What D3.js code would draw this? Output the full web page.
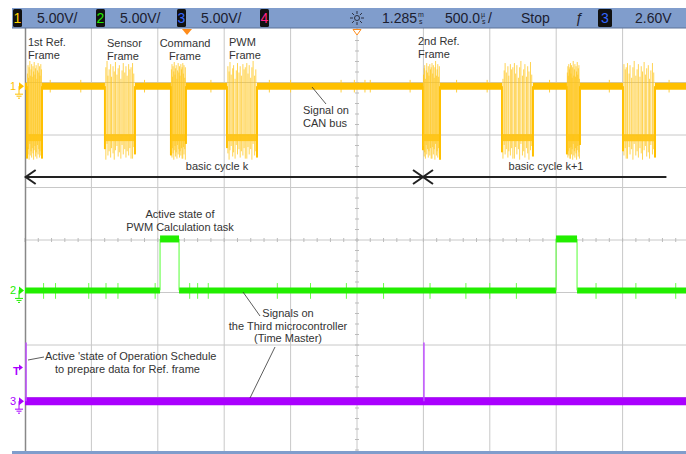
<!DOCTYPE html>
<html>
<head>
<meta charset="utf-8">
<script src="https://cdn.jsdelivr.net/npm/d3@7"></script>
<style>
body { margin: 0; background: #fff; }
svg { display: block; font-family: "Liberation Sans", Arial, sans-serif; }
</style>
</head>
<body>
<div id="container"></div>
<script>
width = 686;
height = 454;

// time base 500 us/div, 10 divisions on screen (values in us from left edge)
timeDomain = [0, 5000];
voltsPerDiv = 5;

// channel 1 - CAN bus frames
frameStart = [15, 602, 1099, 1521, 2997, 3592, 4081, 4503];
frameEnd   = [128, 828, 1212, 1747, 3125, 3825, 4179, 4744];
canHigh = 0;
canLow = -4.9;
// edge positions inside a frame (fraction of frame length) and the ringing peaks
edgeFrac    = [0, .03, .07, .1, .14, .19, .22, .27, .31, .35, .4, .44, .48, .53, .57, .61, .66, .7, .74, .79, .83, .87, .92, .96, 1];
spikeTop    = [2.2, 1.2, 2.0, 0.8, 1.8, 2.4, 1.0, 1.6, 2.1, 0.9, 1.9, 1.4, 2.3, 1.1, 1.7, 2.0, 0.7, 1.5, 2.2, 1.3, 1.9, 1.0, 2.1, 1.6, 1.8];
spikeBottom = [-6.9, -5.8, -6.5, -6.0, -7.0, -5.5, -6.6, -6.2, -6.8, -5.9, -6.4, -7.0, -6.1, -5.7, -6.7, -6.3, -6.9, -5.6, -6.5, -6.0, -6.8, -6.2, -6.6, -5.9, -6.9];
canGlitch = [190, 420, 900, 1400, 1840, 2000, 2380, 2480, 2560, 2600, 2900, 3250, 3480, 3950, 4400, 4850];

// channel 2 - PWM calculation task
pwmTaskStart = [1017, 3999];
pwmTaskEnd   = [1160, 4157];
pwmTaskHigh = 4.9;
pwmGlitch = [140, 230, 480, 610, 700, 980, 1240, 1300, 1380, 1900, 2150, 2420, 2700, 3050, 3320, 3500, 3700, 4300, 4600, 4900];

// channel 3 - operation schedule (time master)
schedPulse = [8, 3004];
schedHigh = 5.6;

// ground offsets of the channels, in divisions from screen centre
chOffset = { 1: 2.93, 2: -0.96, 3: -3.07 };
chColor = { 1: "#ffc000", 2: "#22ee00", 3: "#aa00ff" };

const x = d3.scaleLinear().domain(timeDomain).range([25, 689]);
const yDiv = d3.scaleLinear().domain([-4, 4]).range([450, 30]);
const yCh = (ch, v) => yDiv(chOffset[ch] + v / voltsPerDiv);

const svg = d3.select("#container").append("svg")
    .attr("width", width).attr("height", height);

svg.append("defs").append("clipPath").attr("id", "scr")
  .append("rect").attr("x", 25).attr("y", 28).attr("width", 661).attr("height", 424);

// ---- graticule
const grid = svg.append("g");
grid.selectAll("line.v").data(d3.range(1, 10)).join("line")
    .attr("x1", d => x(d * 500)).attr("x2", d => x(d * 500))
    .attr("y1", 28).attr("y2", 452)
    .attr("stroke", "#c8c8c8").attr("stroke-width", 1);
grid.selectAll("line.h").data(d3.range(-3, 4)).join("line")
    .attr("x1", 25).attr("x2", width)
    .attr("y1", d => yDiv(d)).attr("y2", d => yDiv(d))
    .attr("stroke", "#c8c8c8").attr("stroke-width", 1);
// minor ticks on the centre lines
grid.selectAll("line.tx").data(d3.range(0, 50)).join("line")
    .attr("x1", d => x(d * 100)).attr("x2", d => x(d * 100))
    .attr("y1", yDiv(0) - 2).attr("y2", yDiv(0) + 2)
    .attr("stroke", "#bbb");
grid.selectAll("line.ty").data(d3.range(-40, 40, 2)).join("line")
    .attr("x1", x(2500) - 2).attr("x2", x(2500) + 2)
    .attr("y1", d => yDiv(d / 10)).attr("y2", d => yDiv(d / 10))
    .attr("stroke", "#bbb");
grid.append("line").attr("x1", 25.5).attr("x2", 25.5).attr("y1", 28).attr("y2", 452)
    .attr("stroke", "#888").attr("stroke-width", 1.5);

const traces = svg.append("g").attr("clip-path", "url(#scr)");

// ---- channel 1 : CAN bus
const idle = [[-200, frameStart[0]]];
frameStart.forEach((s, i) => idle.push([frameEnd[i], i + 1 < frameStart.length ? frameStart[i + 1] : 5200]));
traces.append("g").selectAll("line").data(canGlitch).join("line")
    .attr("x1", d => x(d)).attr("x2", d => x(d))
    .attr("y1", yCh(1, 0.6)).attr("y2", yCh(1, -0.6))
    .attr("stroke", "#ffcf40").attr("stroke-width", 1);
traces.append("g").selectAll("line").data(idle).join("line")
    .attr("x1", d => x(d[0])).attr("x2", d => x(d[1]))
    .attr("y1", yCh(1, canHigh)).attr("y2", yCh(1, canHigh))
    .attr("stroke", chColor[1]).attr("stroke-width", 7);
traces.append("g").selectAll("line").data(frameStart).join("line")
    .attr("x1", d => x(d)).attr("x2", (d, i) => x(frameEnd[i]))
    .attr("y1", yCh(1, canLow)).attr("y2", yCh(1, canLow))
    .attr("stroke", chColor[1]).attr("stroke-width", 7).attr("opacity", 0.85);
const edges = [];
frameStart.forEach((s, i) => edgeFrac.forEach((f, k) => {
    const j = (k + i * 3) % edgeFrac.length;
    edges.push({ t: s + f * (frameEnd[i] - s), top: spikeTop[j], bot: spikeBottom[j], edge: k === 0 || k === edgeFrac.length - 1 });
}));
traces.append("g").selectAll("line").data(edges).join("line")
    .attr("x1", d => x(d.t)).attr("x2", d => x(d.t))
    .attr("y1", d => yCh(1, d.edge ? canHigh : d.top)).attr("y2", d => yCh(1, d.bot))
    .attr("stroke", d => d.edge ? chColor[1] : "#ffc61a")
    .attr("stroke-width", d => d.edge ? 2 : 1)
    .attr("opacity", d => d.edge ? 1 : 0.75);

// ---- channel 2 : PWM calculation task
const lowSeg = [[-200, pwmTaskStart[0]]];
pwmTaskStart.forEach((s, i) => lowSeg.push([pwmTaskEnd[i], i + 1 < pwmTaskStart.length ? pwmTaskStart[i + 1] : 5200]));
traces.append("g").selectAll("line").data(pwmGlitch).join("line")
    .attr("x1", d => x(d)).attr("x2", d => x(d))
    .attr("y1", yCh(2, 0.7)).attr("y2", yCh(2, -0.8))
    .attr("stroke", "#66ff44").attr("stroke-width", 1);
traces.append("g").selectAll("line").data(lowSeg).join("line")
    .attr("x1", d => x(d[0])).attr("x2", d => x(d[1]))
    .attr("y1", yCh(2, 0)).attr("y2", yCh(2, 0))
    .attr("stroke", chColor[2]).attr("stroke-width", 6);
const pulse2 = traces.append("g").selectAll("g").data(pwmTaskStart).join("g");
pulse2.append("path")
    .attr("d", (d, i) => `M${x(d)},${yCh(2, 0)}V${yCh(2, pwmTaskHigh)}M${x(pwmTaskEnd[i])},${yCh(2, pwmTaskHigh)}V${yCh(2, 0)}`)
    .attr("fill", "none").attr("stroke", "#55ff33").attr("stroke-width", 1);
pulse2.append("line")
    .attr("x1", d => x(d)).attr("x2", (d, i) => x(pwmTaskEnd[i]))
    .attr("y1", yCh(2, pwmTaskHigh)).attr("y2", yCh(2, pwmTaskHigh))
    .attr("stroke", chColor[2]).attr("stroke-width", 7);

// ---- channel 3 : operation schedule
traces.append("line")
    .attr("x1", x(-200)).attr("x2", x(5200))
    .attr("y1", yCh(3, 0)).attr("y2", yCh(3, 0))
    .attr("stroke", chColor[3]).attr("stroke-width", 8);
traces.append("g").selectAll("line").data(schedPulse).join("line")
    .attr("x1", d => x(d)).attr("x2", d => x(d))
    .attr("y1", yCh(3, 0)).attr("y2", yCh(3, schedHigh))
    .attr("stroke", "#c050ff").attr("stroke-width", 1.5);

// ---- ground markers
function groundMark(ch, label, y) {
    const g = svg.append("g").attr("fill", chColor[ch]).attr("stroke", chColor[ch]);
    g.append("text").attr("x", 10).attr("y", y + 4).attr("font-size", 11)
        .attr("stroke", "none").text(label);
    g.append("path").attr("d", `M19,${y - 4}L24,${y}L19,${y + 4}Z`).attr("stroke", "none");
    g.append("path").attr("d", `M19,${y}V${y + 8}M15,${y + 8}H23M16.5,${y + 10}H21.5M18,${y + 12}H20`)
        .attr("fill", "none").attr("stroke-width", 1);
}
groundMark(1, "1", yCh(1, 0));
groundMark(2, "2", yCh(2, 0));
groundMark(3, "3", yCh(3, 0));
const trig = svg.append("g").attr("fill", chColor[3]);
trig.append("text").attr("x", 13).attr("y", yCh(3, 2.7) + 2).attr("font-size", 11).attr("font-weight", "bold").text("T");
trig.append("path").attr("d", `M19,${yCh(3, 3.2) - 3}L23,${yCh(3, 3.2)}L19,${yCh(3, 3.2) + 3}Z`);

// ---- status bar
const bar = svg.append("g");
bar.append("rect").attr("x", 12).attr("y", 8).attr("width", width - 12).attr("height", 20).attr("fill", "#809dcc");
bar.append("line").attr("x1", 12).attr("x2", width).attr("y1", 28).attr("y2", 28).attr("stroke", "#5d7399");
svg.append("rect").attr("x", 12).attr("y", 451).attr("width", width - 12).attr("height", 3).attr("fill", "#809dcc");

const chBox = [
    { n: "1", x: 13, c: "#ffd400", txt: "5.00V/" },
    { n: "2", x: 96, c: "#22ee00", txt: "5.00V/" },
    { n: "3", x: 177, c: "#3366ff", txt: "5.00V/" },
    { n: "4", x: 260, c: "#ff2288", txt: "" }
];
chBox.forEach(b => {
    bar.append("rect").attr("x", b.x).attr("y", 9).attr("width", 9).attr("height", 18).attr("rx", 1.5).attr("fill", "#111");
    bar.append("text").attr("x", b.x + 4.5).attr("y", 23).attr("text-anchor", "middle")
        .attr("font-size", 14).attr("fill", b.c).text(b.n);
    bar.append("text").attr("x", b.x + 24).attr("y", 23).attr("font-size", 14).attr("fill", "#1c2030").text(b.txt);
});
// acquisition settings
const sun = bar.append("g").attr("transform", "translate(357,18)").attr("stroke", "#2a2f40");
sun.append("circle").attr("r", 2.5).attr("fill", "none");
d3.range(8).forEach(k => {
    const a = k * Math.PI / 4;
    sun.append("line").attr("x1", 4 * Math.cos(a)).attr("y1", 4 * Math.sin(a))
        .attr("x2", 7 * Math.cos(a)).attr("y2", 7 * Math.sin(a));
});
function unitText(xp, main, u1, u2, tail) {
    const t = bar.append("text").attr("x", xp).attr("y", 23).attr("font-size", 14).attr("fill", "#1c2030").text(main);
    const w = t.node().getComputedTextLength();
    bar.append("text").attr("x", xp + w + 1).attr("y", 17).attr("font-size", 7).attr("fill", "#1c2030").text(u1);
    bar.append("text").attr("x", xp + w + 2).attr("y", 24).attr("font-size", 7).attr("fill", "#1c2030").text(u2);
    if (tail) bar.append("text").attr("x", xp + w + 8).attr("y", 23).attr("font-size", 14).attr("fill", "#1c2030").text(tail);
}
unitText(382, "1.285", "m", "s", "");
unitText(445, "500.0", "µ", "s", "/");
bar.append("text").attr("x", 521).attr("y", 23).attr("font-size", 14).attr("fill", "#1c2030").text("Stop");
bar.append("text").attr("x", 575).attr("y", 23).attr("font-size", 14).attr("font-style", "italic").attr("fill", "#1c2030").text("ƒ");
bar.append("rect").attr("x", 598).attr("y", 9).attr("width", 14).attr("height", 18).attr("rx", 1.5).attr("fill", "#111");
bar.append("text").attr("x", 605).attr("y", 23).attr("text-anchor", "middle").attr("font-size", 14).attr("fill", "#3366ff").text("3");
bar.append("text").attr("x", 635).attr("y", 23).attr("font-size", 14).attr("fill", "#1c2030").text("2.60V");

// trigger markers
svg.append("path").attr("d", `M182,29H192L187,35Z`).attr("fill", "#ff8c1a");
svg.append("path").attr("d", `M${x(2500) - 4},29.5H${x(2500) + 4}L${x(2500)},35Z`)
    .attr("fill", "#fff").attr("stroke", "#ff8c1a");

// ---- annotations
const ann = svg.append("g").attr("font-size", 11).attr("fill", "#333");
function label(xp, yp, lines, anchor) {
    const t = ann.append("text").attr("x", xp).attr("y", yp).attr("text-anchor", anchor || "start");
    lines.forEach((s, i) => t.append("tspan").attr("x", xp).attr("dy", i ? 12.5 : 0).text(s));
}
label(28, 46, ["1st Ref.", "Frame"]);
label(107, 47, ["Sensor", "Frame"]);
label(185, 47, ["Command", "Frame"], "middle");
label(229, 46, ["PWM", "Frame"]);
label(418, 45, ["2nd Ref.", "Frame"]);
label(303, 114, ["Signal on", "CAN bus"]);
label(217, 170, ["basic cycle  k"], "middle");
label(546, 170, ["basic cycle k+1"], "middle");
label(180, 218, ["Active state of", "PWM Calculation task"], "middle");
label(288, 317, ["Signals on", "the Third microcontroller", "(Time Master)"], "middle");
label(45, 360, ["Active 'state of Operation Schedule"]);
label(55, 373, ["to prepare data for Ref. frame"]);

const lead = svg.append("g").attr("stroke", "#333").attr("stroke-width", 0.8).attr("fill", "none");
lead.append("path").attr("d", "M312,87L326,104");
lead.append("path").attr("d", "M243,292L260,316");
lead.append("path").attr("d", "M275,347L250,398");
lead.append("path").attr("d", "M28,360L44,357");

// basic cycle arrows
const yA = 177;
const arr = svg.append("g").attr("stroke", "#222").attr("stroke-width", 2).attr("fill", "none");
arr.append("line").attr("x1", x(5)).attr("x2", x(4830)).attr("y1", yA).attr("y2", yA);
arr.append("path").attr("d", `M${x(5) + 10},${yA - 7}L${x(5)},${yA}L${x(5) + 10},${yA + 7}`);
const xj = x(frameStart[4]);
arr.append("path").attr("d", `M${xj - 10},${yA - 7}L${xj},${yA}L${xj - 10},${yA + 7}`);
arr.append("path").attr("d", `M${xj + 10},${yA - 7}L${xj},${yA}L${xj + 10},${yA + 7}`);
</script>
</body>
</html>
